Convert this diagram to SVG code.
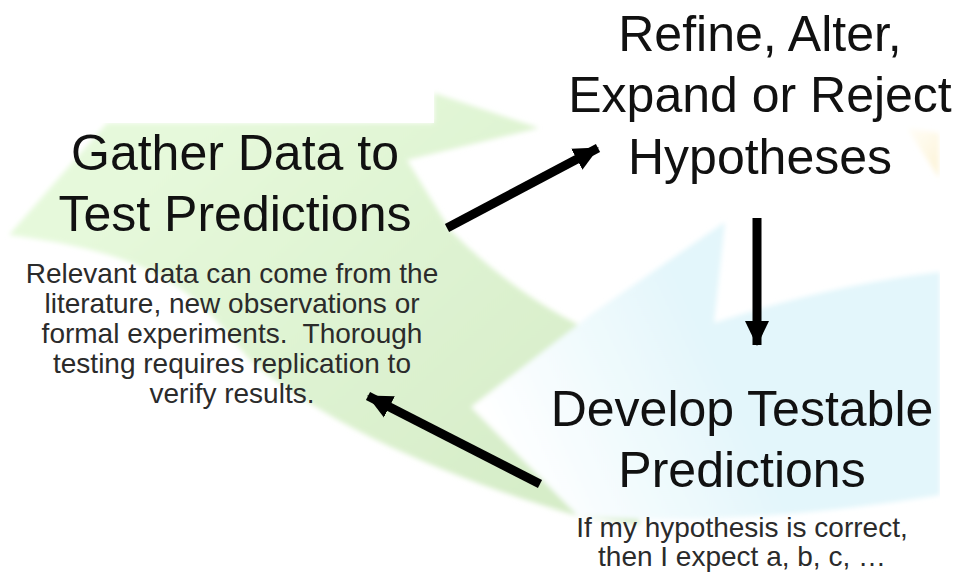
<svg xmlns="http://www.w3.org/2000/svg" width="965" height="575" viewBox="0 0 965 575">
<style>
.h{font-family:"Liberation Sans",Arial,sans-serif;font-size:50px;fill:#111;text-anchor:middle}
.s{font-family:"Liberation Sans",Arial,sans-serif;font-size:28px;fill:#2b2b2b;text-anchor:middle}
.c{stroke:#000;stroke-width:9;fill:none;marker-end:url(#ah)}
</style>
<defs>
<marker id="ah" markerUnits="userSpaceOnUse" markerWidth="26" markerHeight="26" viewBox="0 0 26 26" refX="24" refY="13" orient="auto">
<path d="M0,1 L25,13 L0,25 Z" fill="#000"/>
</marker>
<linearGradient id="gg" gradientUnits="userSpaceOnUse" x1="200" y1="120" x2="560" y2="520">
<stop offset="0" stop-color="#e6f9db"/>
<stop offset="1" stop-color="#d5ecc7"/>
</linearGradient>
<linearGradient id="bg" gradientUnits="userSpaceOnUse" x1="490" y1="430" x2="700" y2="330">
<stop offset="0" stop-color="#ffffff"/>
<stop offset="1" stop-color="#e3f6fb"/>
</linearGradient>
<linearGradient id="yg" gradientUnits="userSpaceOnUse" x1="905" y1="128" x2="940" y2="160">
<stop offset="0" stop-color="#fffef9"/>
<stop offset="1" stop-color="#fdf5dc"/>
</linearGradient>
<filter id="soft" x="-5%" y="-5%" width="110%" height="110%">
<feGaussianBlur stdDeviation="2.5"/>
</filter>
</defs>
<rect width="965" height="575" fill="#fff"/>
<g id="background" filter="url(#soft)">
<path d="M9,235 L107,123 L434,123 L434,93 L539,128 L407,160 L450,230 Q520,300 600,335 L640,525 L578,516 C470,485 330,430 250,360 C200,300 170,255 9,235 Z" fill="url(#gg)"/>
<path d="M471,407 L593,313 L725,222 L714,323 Q830,285 940,272 L940,495 C820,515 680,525 578,516 Z" fill="url(#bg)"/>
<path d="M907,128 L939,133 L939,178 Z" fill="url(#yg)"/>
</g>
<rect x="940" y="0" width="25" height="575" fill="#fff"/>
<rect x="0" y="0" width="434" height="123" fill="#fff"/>
<g id="node-refine">
<text class="h" x="760" y="51">Refine, Alter,</text>
<text class="h" x="760" y="112">Expand or Reject</text>
<text class="h" x="760" y="174">Hypotheses</text>
</g>
<g id="node-gather">
<text class="h" x="235" y="170">Gather Data to</text>
<text class="h" x="235" y="231">Test Predictions</text>
<text class="s" x="232" y="283">Relevant data can come from the</text>
<text class="s" x="232" y="313">literature, new observations or</text>
<text class="s" x="232" y="343" xml:space="preserve">formal experiments.  Thorough</text>
<text class="s" x="232" y="373">testing requires replication to</text>
<text class="s" x="232" y="403">verify results.</text>
</g>
<g id="node-develop">
<text class="h" x="742" y="426">Develop Testable</text>
<text class="h" x="742" y="487">Predictions</text>
<text class="s" x="742" y="537">If my hypothesis is correct,</text>
<text class="s" x="742" y="566">then I expect a, b, c, …</text>
</g>
<g id="connectors">
<line class="c" x1="447" y1="228" x2="598" y2="148"/>
<line class="c" x1="757" y1="218" x2="757" y2="345"/>
<line class="c" x1="540" y1="484" x2="368" y2="396"/>
</g>
</svg>
